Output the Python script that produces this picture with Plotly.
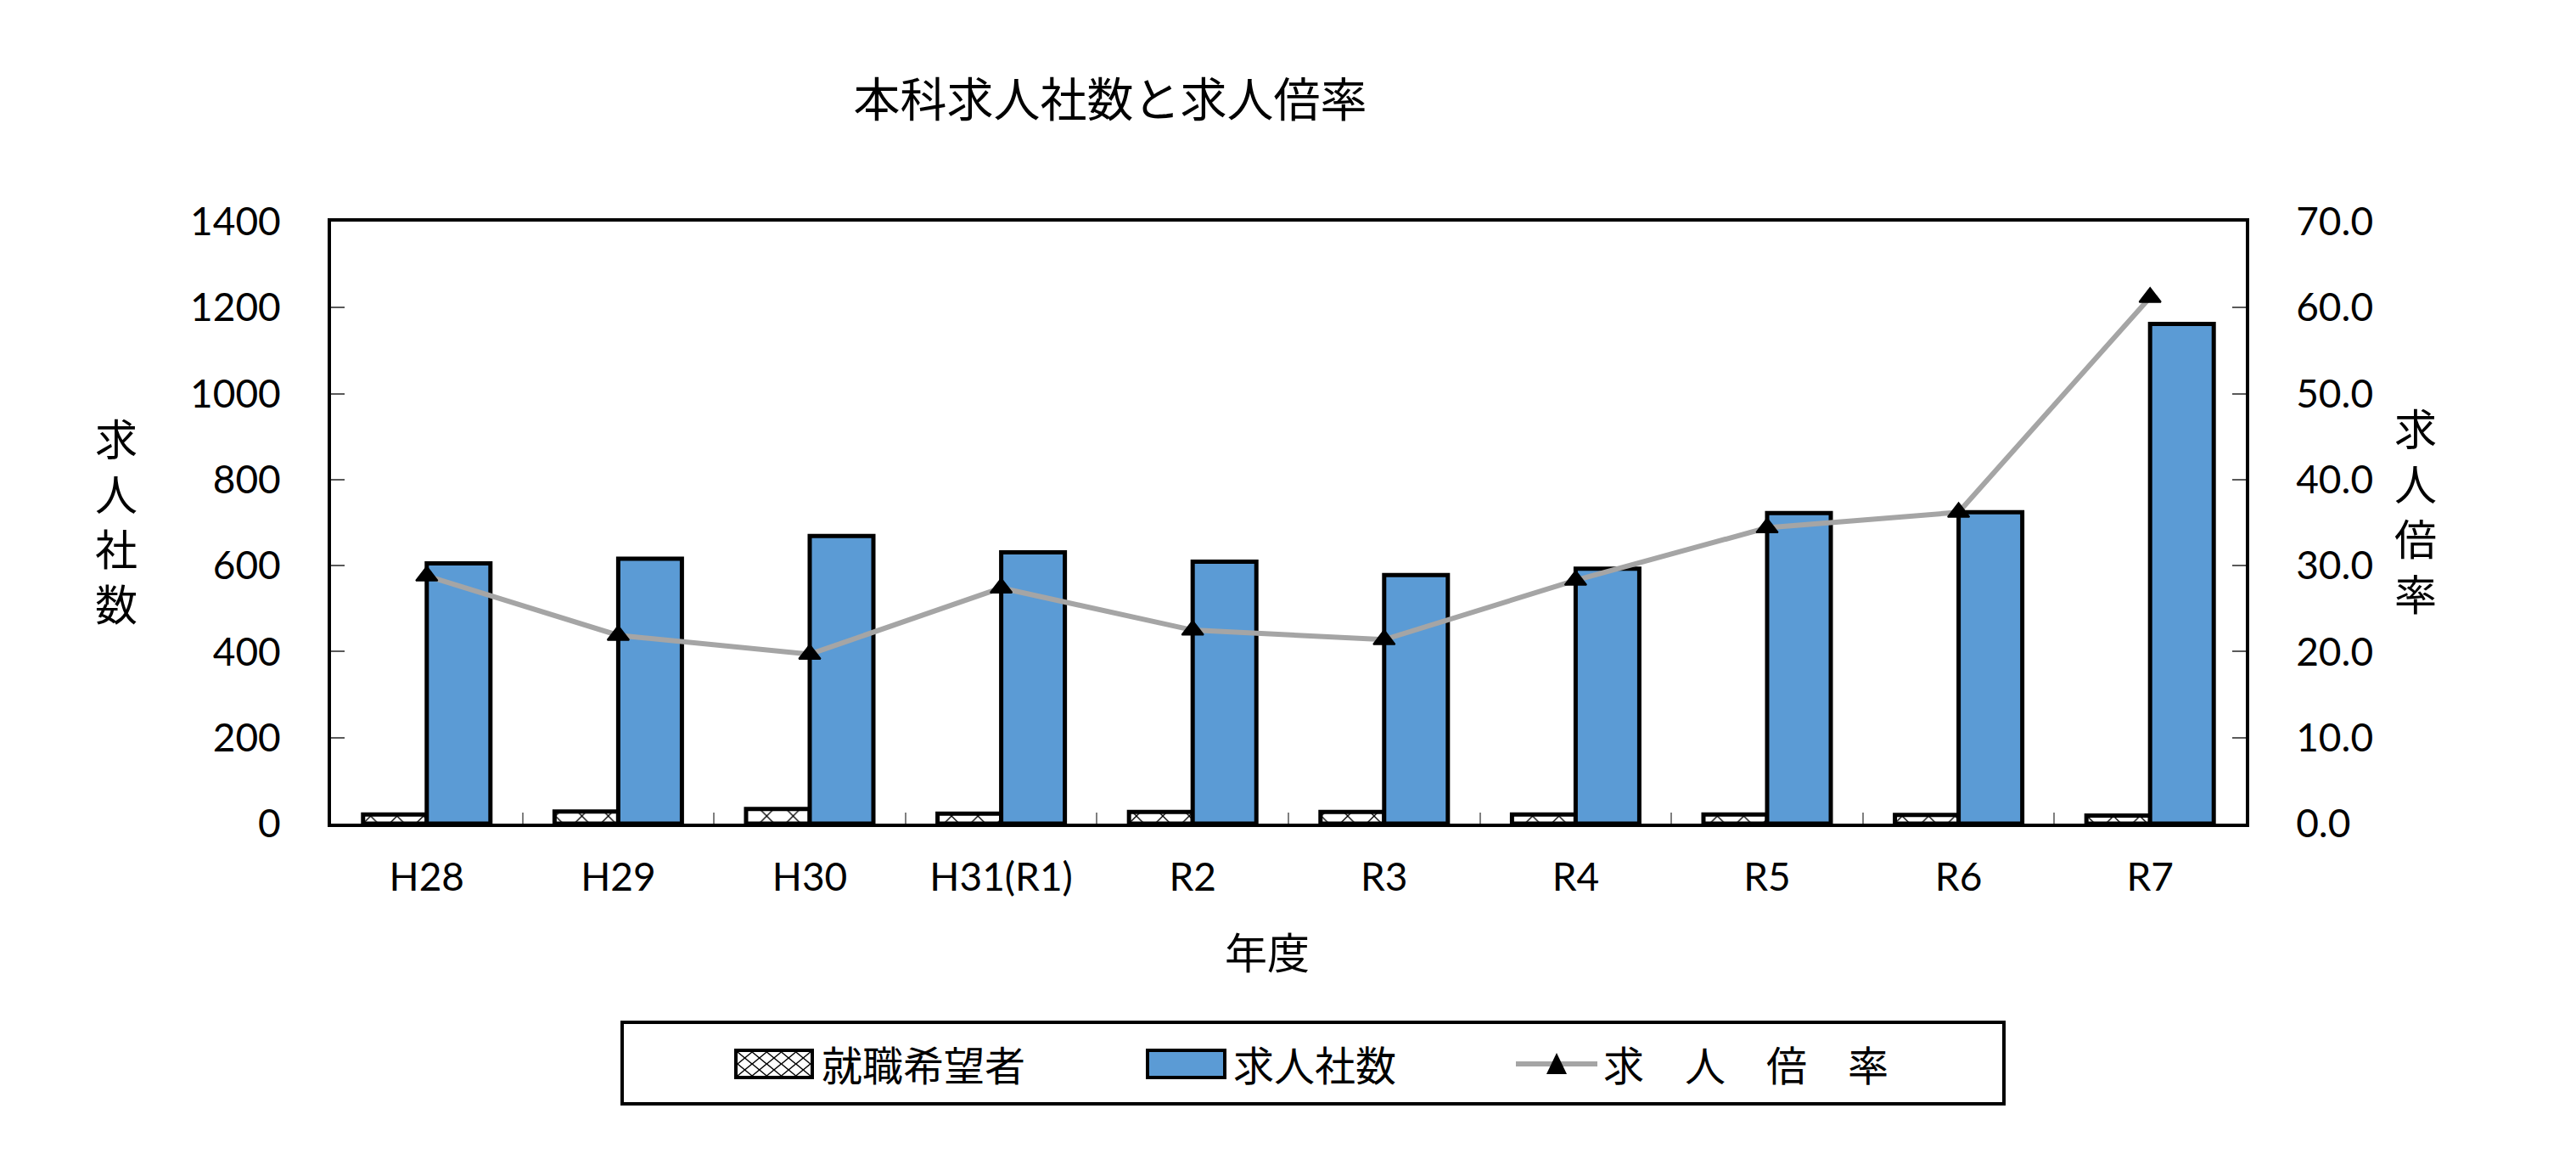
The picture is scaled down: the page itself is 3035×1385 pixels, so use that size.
import plotly.graph_objects as go
from plotly.subplots import make_subplots

# 年度
years = ["H28", "H29", "H30", "H31(R1)", "R2", "R3", "R4", "R5", "R6", "R7"]
# 就職希望者
applicants = [21, 28, 34, 23, 27, 27, 21, 21, 20, 19]
# 求人社数
companies = [605, 616, 669, 631, 609, 578, 593, 722, 724, 1162]
# 求人倍率
ratio = [28.8, 21.9, 19.7, 27.4, 22.5, 21.4, 28.3, 34.4, 36.2, 61.2]

OFF = 8  # отступ body у страницы
W, H = 3035 - 2 * OFF, 1385 - 2 * OFF
PW, PH = 2256, 709
L, T = 390 - OFF, 261 - OFF
R, B = W - L - PW, H - T - PH
FONT = "Lato, Noto Sans CJK JP"
JP = "Noto Sans CJK JP"
BLUE = "#5B9BD5"


def px(x, y):
    # пиксели страницы -> координаты paper
    return (x - OFF - L) / PW, (T + PH - (y - OFF)) / PH


def rect(x0, y0, x1, y1, **kw):
    a, b = px(x0, y0)
    c, d = px(x1, y1)
    return dict(type="rect", xref="paper", yref="paper", x0=a, y0=b, x1=c, y1=d, **kw)


def path(points, closed=False, **kw):
    s = ""
    for i, (x, y) in enumerate(points):
        a, b = px(x, y)
        s += ("M" if i == 0 else "L") + f"{a:.5f},{b:.5f}"
    if closed:
        s += "Z"
    return dict(type="path", xref="paper", yref="paper", path=s, **kw)


fig = make_subplots(specs=[[{"secondary_y": True}]])

fig.add_trace(go.Bar(
    x=years, y=applicants, name="就職希望者",
    marker=dict(color="white", line=dict(color="black", width=5),
                pattern=dict(shape="x", fgcolor="black", bgcolor="white",
                             size=22, solidity=0.12, fillmode="replace"))),
    secondary_y=False)
fig.add_trace(go.Bar(
    x=years, y=companies, name="求人社数",
    marker=dict(color=BLUE, line=dict(color="black", width=5))),
    secondary_y=False)
fig.add_trace(go.Scatter(
    x=years, y=ratio, name="求　人　倍　率", mode="lines+markers",
    line=dict(color="#A5A5A5", width=6),
    marker=dict(symbol="triangle-up", size=22, color="black",
                line=dict(color="black", width=2))),
    secondary_y=True)

fig.update_layout(
    width=W, height=H,
    margin=dict(l=L, r=R, t=T, b=B),
    plot_bgcolor="white", paper_bgcolor="white",
    barmode="group", bargap=0.335, bargroupgap=0,
    showlegend=False,
    font=dict(family=FONT, size=46, color="black"),
    title=dict(text="本科求人社数と求人倍率", font=dict(family=JP, size=55),
               xref="paper", x=(1308 - OFF - L) / PW, xanchor="center",
               yref="container", y=1 - (118 - OFF) / H, yanchor="middle"),
)

fig.update_xaxes(domain=[0, 1], range=[-0.5, len(years) - 0.5], showline=True,
                 linecolor="black", linewidth=4, mirror=True, ticks="inside",
                 ticklen=13, tickwidth=2, tickcolor="#7f7f7f", tickson="boundaries",
                 ticklabelstandoff=20, showgrid=False, automargin=False)
fig.update_yaxes(range=[0, 1400], dtick=200, showline=True, linecolor="black",
                 linewidth=4, ticks="inside", ticklen=16, tickwidth=2,
                 tickcolor="#595959", showgrid=False, zeroline=False,
                 ticklabelstandoff=46, automargin=False, secondary_y=False)
fig.update_yaxes(range=[0, 70], dtick=10, tickformat=".1f", showline=True,
                 linecolor="black", linewidth=4, ticks="inside", ticklen=16,
                 tickwidth=2, tickcolor="#595959", showgrid=False, zeroline=False,
                 ticklabelstandoff=46, automargin=False, secondary_y=True)

# подписи осей
ann = []
for text, x, y in [("求<br>人<br>社<br>数", 137, 611), ("求<br>人<br>倍<br>率", 2846, 599),
                   ("年度", 1493, 1119)]:
    a, b = px(x, y)
    ann.append(dict(text=text, x=a, y=b, xref="paper", yref="paper", showarrow=False,
                    xanchor="center", yanchor="middle", font=dict(family=JP, size=50)))

# легенда вручную
shapes = [rect(733, 1204, 2361, 1300, line=dict(color="black", width=4), fillcolor="white")]
shapes.append(rect(867, 1237, 957, 1269, line=dict(color="black", width=4), fillcolor="white"))
for i in range(5):
    for j in range(2):
        x0, y0 = 869 + i * 17.2, 1239 + j * 14
        shapes.append(path([(x0, y0), (x0 + 17, y0 + 14)], line=dict(color="black", width=1.5)))
        shapes.append(path([(x0 + 17, y0), (x0, y0 + 14)], line=dict(color="black", width=1.5)))
shapes.append(rect(1352, 1237, 1443, 1269, line=dict(color="black", width=4), fillcolor=BLUE))
shapes.append(path([(1786, 1253), (1882, 1253)], line=dict(color="#A5A5A5", width=6)))
shapes.append(path([(1834, 1240), (1846, 1265), (1822, 1265)], closed=True,
                   line=dict(width=0), fillcolor="black"))
for text, x in [("就職希望者", 966), ("求人社数", 1451), ("求　人　倍　率", 1887)]:
    a, b = px(x, 1252)
    ann.append(dict(text=text, x=a, y=b, xref="paper", yref="paper", showarrow=False,
                    xanchor="left", yanchor="middle", font=dict(family=JP, size=48)))

fig.update_layout(annotations=ann, shapes=shapes)
fig.write_html("out.html")
